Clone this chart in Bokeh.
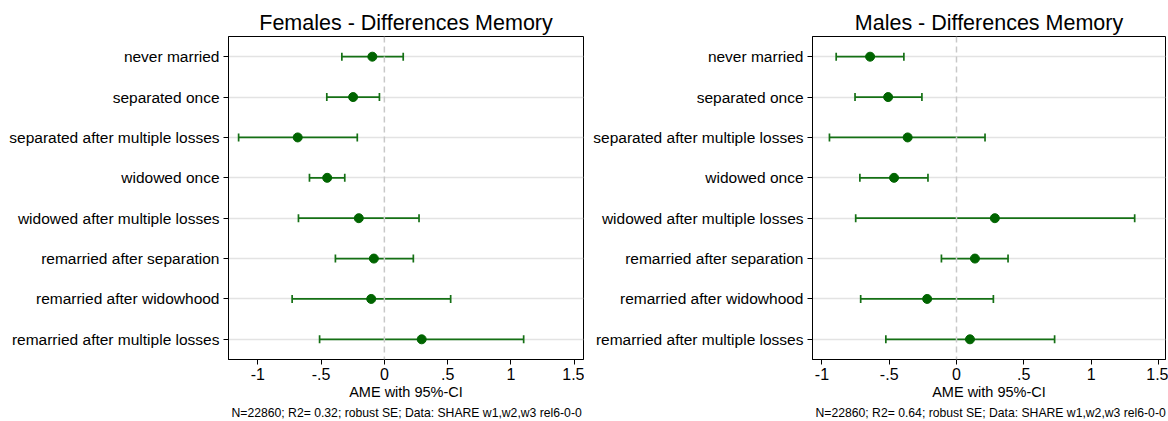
from bokeh.plotting import figure
from bokeh.layouts import row
from bokeh.models import Range1d, FixedTicker, Span, Whisker, TeeHead, ColumnDataSource, Title
from bokeh.embed import file_html
from bokeh.resources import INLINE

# Marital-history categories, top to bottom
categories = [
    "never married",
    "separated once",
    "separated after multiple losses",
    "widowed once",
    "widowed after multiple losses",
    "remarried after separation",
    "remarried after widowhood",
    "remarried after multiple losses",
]

# Average marginal effects with 95% confidence bounds
female_ame = [-0.095, -0.247, -0.685, -0.452, -0.202, -0.083, -0.104, 0.295]
female_lo = [-0.336, -0.455, -1.152, -0.592, -0.679, -0.387, -0.729, -0.512]
female_hi = [0.149, -0.039, -0.214, -0.313, 0.274, 0.229, 0.524, 1.101]

male_ame = [-0.642, -0.508, -0.363, -0.464, 0.285, 0.137, -0.218, 0.100]
male_lo = [-0.894, -0.754, -0.944, -0.718, -0.749, -0.112, -0.712, -0.525]
male_hi = [-0.391, -0.257, 0.212, -0.212, 1.324, 0.383, 0.274, 0.729]

x_ticks = [-1, -0.5, 0, 0.5, 1, 1.5]
x_tick_labels = ["-1", "-.5", "0", ".5", "1", "1.5"]

female_note = "N=22860; R2= 0.32; robust SE; Data: SHARE w1,w2,w3 rel6-0-0"
male_note = "N=22860; R2= 0.64; robust SE; Data: SHARE w1,w2,w3 rel6-0-0"

FONT = "Liberation Sans"
POINT = "#006400"
BAR = "#157015"


def panel(title, ame, lo, hi, x_start, x_end, note, border_right):
    n = len(categories)
    ypos = list(range(n, 0, -1))
    src = ColumnDataSource(dict(y=ypos, ame=ame, lo=lo, hi=hi))

    p = figure(width=584, height=421, output_backend="svg", toolbar_location=None,
               x_range=Range1d(x_start, x_end), y_range=Range1d(0.5, n + 0.5),
               min_border_left=228, min_border_right=border_right,
               min_border_top=36, min_border_bottom=62)
    p.background_fill_color = "white"
    p.border_fill_color = "white"
    p.outline_line_color = "black"
    p.outline_line_width = 1

    p.title.text = title
    p.title.align = "center"
    p.title.text_font = FONT
    p.title.text_font_size = "21.5px"
    p.title.text_font_style = "normal"
    p.title.text_color = "black"
    p.title.standoff = 3

    # grid: horizontal lines at each category only
    p.xgrid.visible = False
    p.ygrid.ticker = FixedTicker(ticks=ypos)
    p.ygrid.grid_line_color = "#e3e3e3"
    p.ygrid.grid_line_width = 1.5

    p.yaxis.ticker = FixedTicker(ticks=ypos)
    p.yaxis.major_label_overrides = {y: c for y, c in zip(ypos, categories)}
    p.xaxis.ticker = FixedTicker(ticks=x_ticks)
    p.xaxis.major_label_overrides = {t: l for t, l in zip(x_ticks, x_tick_labels)}

    for ax in (p.xaxis, p.yaxis):
        ax.axis_line_color = "black"
        ax.major_tick_line_color = "black"
        ax.major_tick_out = 5
        ax.major_tick_in = 0
        ax.minor_tick_line_color = None
        ax.major_label_text_font = FONT
        ax.major_label_text_color = "black"
    p.yaxis.major_label_text_font_size = "15.5px"
    p.xaxis.major_label_text_font_size = "16px"
    p.yaxis.major_label_standoff = 4
    p.xaxis.major_label_standoff = 3

    p.xaxis.axis_label = "AME with 95%-CI"
    p.xaxis.axis_label_text_font = FONT
    p.xaxis.axis_label_text_font_size = "14.5px"
    p.xaxis.axis_label_text_font_style = "normal"
    p.xaxis.axis_label_text_color = "black"
    p.xaxis.axis_label_standoff = 1

    p.add_layout(Span(location=0, dimension="height", line_color="#c8c8c8",
                      line_width=1.5, line_dash="6 4"))

    p.add_layout(Whisker(source=src, base="y", lower="lo", upper="hi", dimension="width",
                         line_color=BAR, line_width=1.7,
                         lower_head=TeeHead(size=8, line_color=BAR, line_width=1.7),
                         upper_head=TeeHead(size=8, line_color=BAR, line_width=1.7)))
    p.scatter(x="ame", y="y", source=src, size=9, fill_color=POINT, line_color=POINT)

    p.add_layout(Title(text=note, align="left", offset=3, standoff=2,
                       text_font=FONT, text_font_size="12.2px", text_font_style="normal",
                       text_color="black"), "below")
    return p


left = panel("Females - Differences Memory", female_ame, female_lo, female_hi,
             -1.232, 1.574, female_note, 1)
right = panel("Males - Differences Memory", male_ame, male_lo, male_hi,
              -1.07, 1.553, male_note, 3)

layout = row(left, right)
open("out.html", "w").write(file_html(layout, INLINE))
